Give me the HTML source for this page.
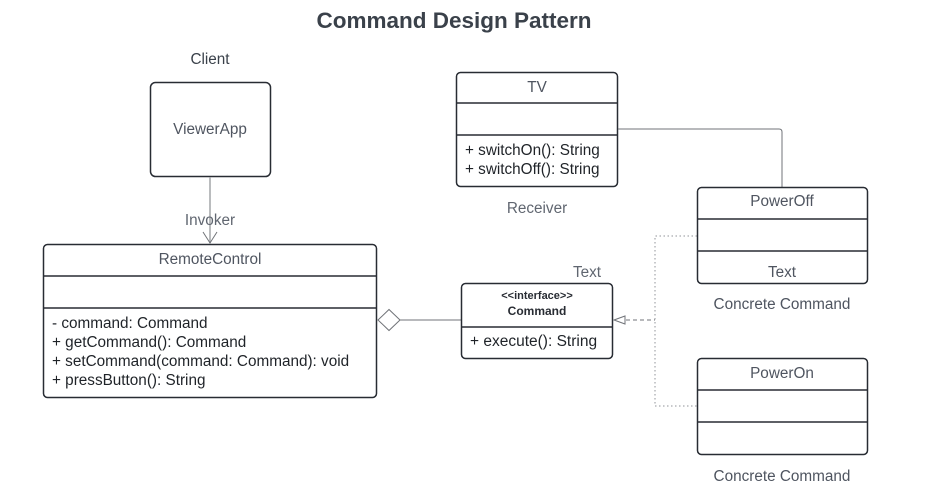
<!DOCTYPE html>
<html><head><meta charset="utf-8"><style>
html,body{margin:0;padding:0;background:#fff;}
svg{display:block;font-family:"Liberation Sans",Arial,sans-serif;}
</style></head><body>
<svg width="925" height="501" viewBox="0 0 925 501" xmlns="http://www.w3.org/2000/svg">
<rect width="925" height="501" fill="#fff"/>
<text x="454" y="28" text-anchor="middle" font-size="22.5" font-weight="bold" fill="#3a414a">Command Design Pattern</text>

<text x="210" y="64" text-anchor="middle" font-size="15.3" fill="#3a414a">Client</text>
<rect x="150.5" y="82.5" width="120" height="94" rx="5" fill="#fff" stroke="#282c33" stroke-width="1.5"/>
<text x="210" y="134" text-anchor="middle" font-size="15.3" fill="#4f5560">ViewerApp</text>

<line x1="210" y1="177" x2="210" y2="243" stroke="#a3a5a8" stroke-width="1.5"/>
<polyline points="203,232 210,243 217,232" fill="none" stroke="#707378" stroke-width="1"/>
<text x="210" y="225" text-anchor="middle" font-size="15.3" fill="#606670">Invoker</text>

<rect x="43.5" y="244.5" width="333" height="153" rx="4" fill="#fff" stroke="#282c33" stroke-width="1.5"/>
<line x1="43.5" y1="276" x2="376.5" y2="276" stroke="#282c33" stroke-width="1.5"/>
<line x1="43.5" y1="308" x2="376.5" y2="308" stroke="#282c33" stroke-width="1.5"/>
<text x="210" y="264" text-anchor="middle" font-size="15.3" fill="#4f5560">RemoteControl</text>
<g font-size="15.3" fill="#1f2328">
<text x="52" y="328">- command: Command</text>
<text x="52" y="347">+ getCommand(): Command</text>
<text x="52" y="366">+ setCommand(command: Command): void</text>
<text x="52" y="385">+ pressButton(): String</text>
</g>

<polygon points="378,320 389,309.5 400,320 389,330.5" fill="#fff" stroke="#707378" stroke-width="1"/>
<line x1="400" y1="320" x2="461" y2="320" stroke="#707378" stroke-width="1"/>

<text x="587" y="277" text-anchor="middle" font-size="15.3" fill="#606670">Text</text>
<rect x="461.5" y="283.5" width="151" height="75" rx="4" fill="#fff" stroke="#282c33" stroke-width="1.5"/>
<line x1="461.5" y1="327" x2="612.5" y2="327" stroke="#282c33" stroke-width="1.5"/>
<text x="537" y="299" text-anchor="middle" font-size="11" font-weight="bold" fill="#282c33">&lt;&lt;interface&gt;&gt;</text>
<text x="537" y="315" text-anchor="middle" font-size="12" font-weight="bold" fill="#282c33">Command</text>
<text x="470" y="346" font-size="15.5" fill="#1f2328">+ execute(): String</text>

<polygon points="614,320 625,316 625,324" fill="#fff" stroke="#707378" stroke-width="1"/>
<line x1="626" y1="320" x2="655" y2="320" stroke="#707378" stroke-width="1" stroke-dasharray="4,3"/>
<polyline points="697,236 655,236 655,406 697,406" fill="none" stroke="#909398" stroke-width="1" stroke-dasharray="1.5,2.5"/>

<rect x="456.5" y="72.5" width="161" height="114" rx="4" fill="#fff" stroke="#282c33" stroke-width="1.5"/>
<line x1="456.5" y1="103" x2="617.5" y2="103" stroke="#282c33" stroke-width="1.5"/>
<line x1="456.5" y1="135" x2="617.5" y2="135" stroke="#282c33" stroke-width="1.5"/>
<text x="537" y="92" text-anchor="middle" font-size="15.3" fill="#4f5560">TV</text>
<text x="465" y="155" font-size="15.3" fill="#1f2328">+ switchOn(): String</text>
<text x="465" y="174" font-size="15.3" fill="#1f2328">+ switchOff(): String</text>
<text x="537" y="213" text-anchor="middle" font-size="15.3" fill="#606670">Receiver</text>

<path d="M618,129 H779 Q782,129 782,132 V187" fill="none" stroke="#707378" stroke-width="1"/>

<rect x="697.5" y="187.5" width="170" height="96" rx="4" fill="#fff" stroke="#282c33" stroke-width="1.5"/>
<line x1="697.5" y1="219" x2="867.5" y2="219" stroke="#282c33" stroke-width="1.5"/>
<line x1="697.5" y1="251" x2="867.5" y2="251" stroke="#282c33" stroke-width="1.5"/>
<text x="782" y="206" text-anchor="middle" font-size="15.3" fill="#4f5560">PowerOff</text>
<text x="782" y="277" text-anchor="middle" font-size="15.3" fill="#4f5560">Text</text>
<text x="782" y="309" text-anchor="middle" font-size="15.3" fill="#4f5560">Concrete Command</text>

<rect x="697.5" y="358.5" width="170" height="96" rx="4" fill="#fff" stroke="#282c33" stroke-width="1.5"/>
<line x1="697.5" y1="390" x2="867.5" y2="390" stroke="#282c33" stroke-width="1.5"/>
<line x1="697.5" y1="422" x2="867.5" y2="422" stroke="#282c33" stroke-width="1.5"/>
<text x="782" y="378" text-anchor="middle" font-size="15.3" fill="#4f5560">PowerOn</text>
<text x="782" y="481" text-anchor="middle" font-size="15.3" fill="#4f5560">Concrete Command</text>
</svg>
</body></html>
